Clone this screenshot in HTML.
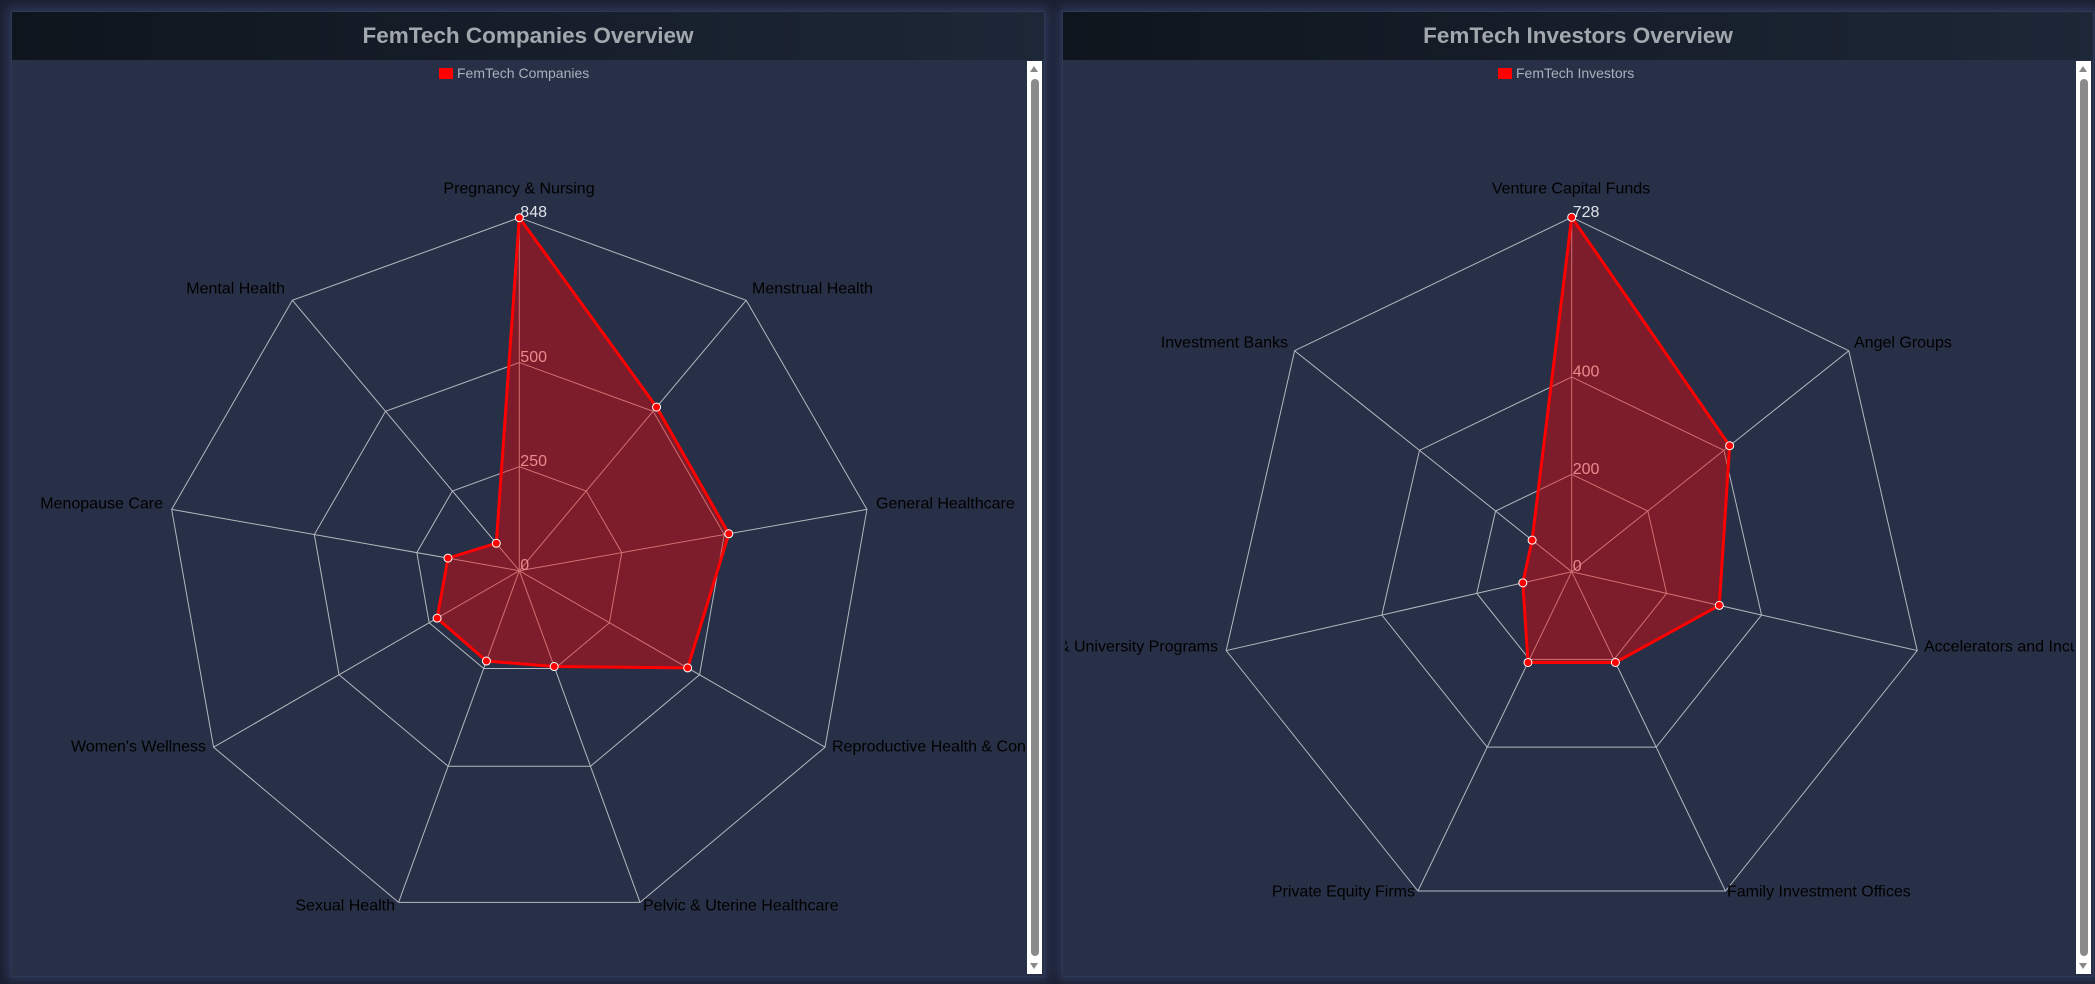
<!DOCTYPE html>
<html><head><meta charset="utf-8"><style>
html,body{margin:0;padding:0;width:2095px;height:984px;overflow:hidden;background:#1b2132;font-family:"Liberation Sans",sans-serif;}
.panel{position:absolute;top:11px;height:964px;background:#273046;box-shadow:0 0 10px 3px rgba(90,100,170,0.35);border:1px solid #2d3a55;}
.hdr{position:absolute;left:0;right:0;top:0;height:48px;background:linear-gradient(90deg,#0f151d,#1d2737);color:#a3a8ae;font-weight:bold;font-size:22.5px;text-align:center;line-height:48px;}
.sb{position:absolute;top:49px;bottom:2px;width:15px;background:#fff;}
.thumb{position:absolute;left:4px;width:8px;top:18px;bottom:18px;background:#8a8a8a;border-radius:4px;}
.ua,.da{position:absolute;left:3px;width:0;height:0;border-left:4px solid transparent;border-right:4px solid transparent;}
.ua{top:5px;border-bottom:6px solid #888;}
.da{bottom:5px;border-top:6px solid #888;}
svg{position:absolute;left:0;top:0;}
</style></head><body>
<div class="panel" style="left:11px;width:1032px;"><div class="hdr">FemTech Companies Overview</div><div class="sb" style="right:2px"><div class="ua"></div><div class="thumb"></div><div class="da"></div></div></div>
<div class="panel" style="left:1062px;width:1030px;"><div class="hdr">FemTech Investors Overview</div><div class="sb" style="right:2px"><div class="ua"></div><div class="thumb"></div><div class="da"></div></div></div>
<svg id="s" width="2095" height="984" xmlns="http://www.w3.org/2000/svg">
<defs>
<clipPath id="c1"><rect x="13" y="60" width="1012" height="912"/></clipPath>
<clipPath id="c2"><rect x="1065" y="60" width="1009" height="912"/></clipPath>
</defs>
<rect x="439" y="68" width="14" height="11" fill="#ff0000"/>
<text x="457" y="78" font-size="14" fill="#aab0bc">FemTech Companies</text>
<rect x="1498" y="68" width="14" height="11" fill="#ff0000"/>
<text x="1516" y="78" font-size="14" fill="#aab0bc">FemTech Investors</text>
<g id="g1" clip-path="url(#c1)"></g>
<g id="g2" clip-path="url(#c2)"></g>
</svg>
<script>
function radar(gid,cx,cy,R,max,ticks,vals,labels){
  var g=document.getElementById(gid),n=vals.length,h='';
  function pt(i,r){var a=i*2*Math.PI/n;return [cx+r*Math.sin(a),cy-r*Math.cos(a)];}
  var rings=ticks.concat([max]);
  rings.forEach(function(t){if(t==0)return;var r=R*t/max,p=[];for(var i=0;i<n;i++)p.push(pt(i,r).join(','));
    h+='<polygon points="'+p.join(' ')+'" fill="none" stroke="#b4b8c0" stroke-width="1"/>';});
  for(var i=0;i<n;i++){var p=pt(i,R);h+='<line x1="'+cx+'" y1="'+cy+'" x2="'+p[0]+'" y2="'+p[1]+'" stroke="#b4b8c0" stroke-width="1"/>';}
  rings.forEach(function(t){var y=cy-R*t/max;h+='<text x="'+(cx+1)+'" y="'+(y-5)+'" font-size="16" fill="#dfe3ea" dominant-baseline="central">'+t+'</text>';});
  var p=[];for(var i=0;i<n;i++)p.push(pt(i,R*vals[i]/max).join(','));
  h+='<polygon points="'+p.join(' ')+'" fill="rgba(255,0,0,0.4)" stroke="#ff0000" stroke-width="3" stroke-linejoin="miter"/>';
  for(var i=0;i<n;i++){var q=pt(i,R*vals[i]/max);h+='<circle cx="'+q[0]+'" cy="'+q[1]+'" r="4" fill="#ff0000" stroke="#fff" stroke-width="1"/>';}
  labels.forEach(function(l){h+='<text x="'+l[1]+'" y="'+(l[2]+2)+'" font-size="16" fill="#000" text-anchor="'+l[3]+'" dominant-baseline="central">'+l[0]+'</text>';});
  g.innerHTML=h;
}
radar('g1',519.3,570.7,353,848,[0,250,500],[848,513,511,467,245,231,228,174,86],[
 ['Pregnancy &amp; Nursing',519,187,'middle'],['Menstrual Health',752,287,'start'],['General Healthcare',876,502,'start'],
 ['Reproductive Health &amp; Contraception',832,745,'start'],['Pelvic &amp; Uterine Healthcare',643,904,'start'],
 ['Sexual Health',395,904,'end'],["Women's Wellness",206,745,'end'],['Menopause Care',163,502,'end'],['Mental Health',285,287,'end']]);
radar('g2',1571.7,571.7,354.4,728,[0,200,400],[728,415,311,207,207,103,104],[
 ['Venture Capital Funds',1571,187,'middle'],['Angel Groups',1854,341,'start'],['Accelerators and Incubators',1924,645,'start'],
 ['Family Investment Offices',1727,890,'start'],['Private Equity Firms',1415,890,'end'],['Government &amp; University Programs',1218,645,'end'],
 ['Investment Banks',1288,341,'end']]);
</script>
</body></html>
